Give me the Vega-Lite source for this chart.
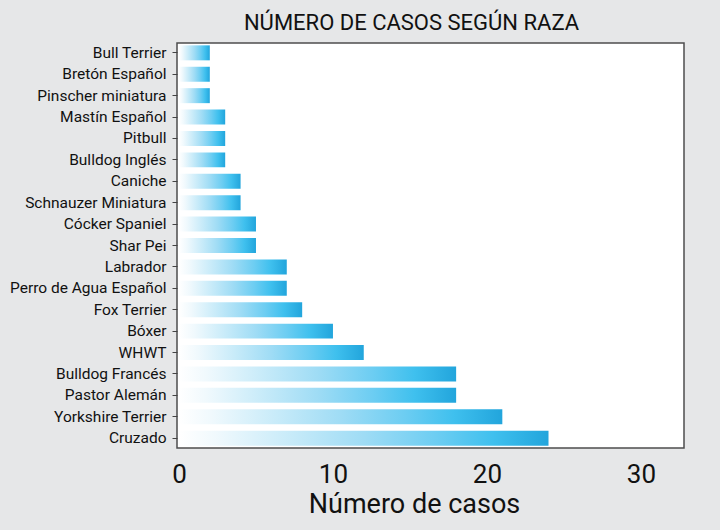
{
  "$schema": "https://vega.github.io/schema/vega-lite/v6.json",
  "autosize": {"type": "none"},
  "padding": {"left": 177, "top": 43, "right": 36, "bottom": 82},
  "width": 507,
  "height": 405,
  "background": "#e6e7e8",
  "title": {
    "text": "NÚMERO DE CASOS SEGÚN RAZA",
    "font": "Roboto",
    "fontSize": 22,
    "fontWeight": "normal",
    "color": "#111111",
    "anchor": "middle",
    "baseline": "alphabetic",
    "offset": 11,
    "dx": -19,
    "dy": 20
  },
  "data": {
    "values": [
      {"raza": "Bull Terrier", "casos": 2},
      {"raza": "Bretón Español", "casos": 2},
      {"raza": "Pinscher miniatura", "casos": 2},
      {"raza": "Mastín Español", "casos": 3},
      {"raza": "Pitbull", "casos": 3},
      {"raza": "Bulldog Inglés", "casos": 3},
      {"raza": "Caniche", "casos": 4},
      {"raza": "Schnauzer Miniatura", "casos": 4},
      {"raza": "Cócker Spaniel", "casos": 5},
      {"raza": "Shar Pei", "casos": 5},
      {"raza": "Labrador", "casos": 7},
      {"raza": "Perro de Agua Español", "casos": 7},
      {"raza": "Fox Terrier", "casos": 8},
      {"raza": "Bóxer", "casos": 10},
      {"raza": "WHWT", "casos": 12},
      {"raza": "Bulldog Francés", "casos": 18},
      {"raza": "Pastor Alemán", "casos": 18},
      {"raza": "Yorkshire Terrier", "casos": 21},
      {"raza": "Cruzado", "casos": 24}
    ]
  },
  "mark": {
    "type": "bar",
    "fill": {
      "gradient": "linear",
      "x1": 0, "y1": 0, "x2": 1, "y2": 0,
      "stops": [
        {"offset": 0, "color": "#ffffff"},
        {"offset": 0.1, "color": "#f0f9fd"},
        {"offset": 0.3, "color": "#c8ebf9"},
        {"offset": 0.5, "color": "#9fdcf5"},
        {"offset": 0.7, "color": "#6ccdf2"},
        {"offset": 0.85, "color": "#3fc0ee"},
        {"offset": 1, "color": "#22a5dc"}
      ]
    }
  },
  "encoding": {
    "y": {
      "field": "raza",
      "type": "nominal",
      "sort": null,
      "scale": {"paddingInner": 0.3, "paddingOuter": 0.11},
      "axis": {
        "title": null,
        "domain": false,
        "ticks": true,
        "tickSize": 5,
        "tickColor": "#444444",
        "tickWidth": 1,
        "labelFont": "Roboto",
        "labelFontSize": 15.5,
        "labelColor": "#111111",
        "labelPadding": 6
      }
    },
    "x": {
      "field": "casos",
      "type": "quantitative",
      "scale": {"domain": [-0.13, 32.8], "nice": false, "zero": false},
      "axis": {
        "values": [0, 10, 20, 30],
        "title": "Número de casos",
        "titleFont": "Roboto",
        "titleFontSize": 27,
        "titleFontWeight": "normal",
        "titleColor": "#111111",
        "titleX": 237,
        "titleY": 64,
        "titleAnchor": "middle",
        "titleBaseline": "alphabetic",
        "domain": false,
        "ticks": false,
        "grid": false,
        "labelFont": "Roboto",
        "labelFontSize": 26,
        "labelColor": "#111111",
        "labelBaseline": "alphabetic",
        "labelPadding": 34,
        "labelFlush": false
      }
    }
  },
  "config": {
    "view": {"fill": "#ffffff", "stroke": "#4d4d4d", "strokeWidth": 1.5}
  }
}
